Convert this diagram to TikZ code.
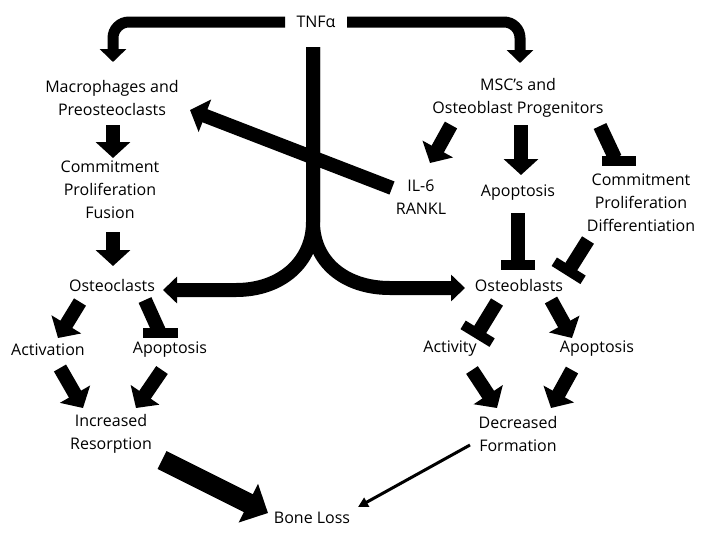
\documentclass[tikz,border=0pt]{standalone}
\usepackage{fontspec}
\setmainfont{Open Sans}
\usetikzlibrary{arrows.meta, calc}

\tikzset{
  lbl/.style={font=\fontsize{16}{23}\selectfont, align=center, inner sep=0pt},
  arr/.style={line width=14pt, -{Triangle[width=34pt,length=16pt]}},
  tnfarr/.style={line width=11pt, rounded corners=16pt, -{Triangle[width=26pt,length=13pt]}},
  trunk/.style={line width=14pt, -{Triangle[width=26pt,length=14pt]}},
  inh/.style={line width=14pt, -{Bar[width=34pt,line width=10pt]}},
  inhline/.style={line width=14pt},
  inhbar/.style={line width=10pt},
  bigarr/.style={line width=20pt, -{Triangle[width=42pt,length=22pt]}},
  thinarr/.style={line width=3pt, -{Triangle[width=10pt,length=10pt]}}
}

\begin{document}
\begin{tikzpicture}[x=1pt,y=-1pt]
    \useasboundingbox (0,0) rectangle (708,533);

    % Top
    \node[lbl] (tnf) at (316,22) {TNFα};

    % Left side - osteoclast line
    \node[lbl] (mac) at (112,98) {Macrophages and\\Preosteoclasts};
    \node[lbl] (cpf) at (110,190) {Commitment\\Proliferation\\Fusion};
    \node[lbl] (ocl) at (112,285) {Osteoclasts};
    \node[lbl] (act) at (48,350) {Activation};
    \node[lbl] (apl) at (170,350) {Apoptosis};
    \node[lbl] (inr) at (111,434) {Increased\\Resorption};

    % Right side - osteoblast line
    \node[lbl] (msc) at (518,98) {MSC’s and\\Osteoblast Progenitors};
    \node[lbl] (il6) at (421,197) {IL-6\\RANKL};
    \node[lbl] (apr) at (518,193) {Apoptosis};
    \node[lbl] (cpd) at (641,203) {Commitment\\Proliferation\\Differentiation};
    \node[lbl] (obl) at (519,285) {Osteoblasts};
    \node[lbl] (acy) at (450,349) {Activity};
    \node[lbl] (apb) at (597,349) {Apoptosis};
    \node[lbl] (dcf) at (518,434) {Decreased\\Formation};

    % Bottom
    \node[lbl] (bone) at (312,518) {Bone Loss};

    % TNF branches
    \draw[tnfarr] ([shift={(-31,0)}]tnf.center) -| ([shift={(1,-36)}]mac.center);
    \draw[tnfarr] ([shift={(31,0)}]tnf.center) -| ([shift={(2,-35)}]msc.center);

    % Trunk splitting to osteoclasts and osteoblasts
    \draw[trunk] ([shift={(-3,25)}]tnf.center) -- (313,222)
        .. controls (313,262) and (281,290) .. (236,290) -- ([shift={(51,5)}]ocl.center);
    \draw[trunk] ([shift={(-3,25)}]tnf.center) -- (313,222)
        .. controls (313,262) and (345,288) .. (390,288) -- ([shift={(-54,3)}]obl.center);

    % IL-6 / RANKL back to macrophages
    \draw[arr] ([shift={(-29,-9)}]il6.center) -- ([shift={(78,12)}]mac.center);

    % Left column
    \draw[arr] ([shift={(1,27)}]mac.center) -- ([shift={(3,-32)}]cpf.center);
    \draw[arr] ([shift={(3,42)}]cpf.center) -- ([shift={(1,-19)}]ocl.center);
    \draw[arr] ([shift={(-32,17)}]ocl.center) -- ([shift={(10,-12)}]act.center);
    \draw[inhline] ([shift={(33,15)}]ocl.center) -- ([shift={(-11,-19)}]apl.center);
    \draw[inhbar] ([shift={(-27,-17)}]apl.center) -- ([shift={(8,-17)}]apl.center);
    \draw[arr] ([shift={(12,18)}]act.center) -- ([shift={(-28,-26)}]inr.center);
    \draw[arr] ([shift={(-8,20)}]apl.center) -- ([shift={(25,-26)}]inr.center);

    % Right column
    \draw[arr] ([shift={(-67,27)}]msc.center) -- ([shift={(9,-34)}]il6.center);
    \draw[arr] ([shift={(3,27)}]msc.center) -- ([shift={(3,-18)}]apr.center);
    \draw[inhline] ([shift={(82,28)}]msc.center) -- ([shift={(-26,-45)}]cpd.center);
    \draw[inhbar] ([shift={(-39,-42)}]cpd.center) -- ([shift={(-5,-42)}]cpd.center);
    \draw[inh] ([shift={(0,20)}]apr.center) -- ([shift={(-1,-15)}]obl.center);
    \draw[inh] ([shift={(-53,37)}]cpd.center) -- ([shift={(47,-10)}]obl.center);
    \draw[inh] ([shift={(-22,17)}]obl.center) -- ([shift={(25,-11)}]acy.center);
    \draw[arr] ([shift={(32,15)}]obl.center) -- ([shift={(-25,-11)}]apb.center);
    \draw[arr] ([shift={(22,21)}]acy.center) -- ([shift={(-21,-26)}]dcf.center);
    \draw[arr] ([shift={(-25,21)}]apb.center) -- ([shift={(33,-26)}]dcf.center);

    % To bone loss
    \draw[bigarr] ([shift={(51,26)}]inr.center) -- ([shift={(-44,-5)}]bone.center);
    \draw[thinarr] ([shift={(-48,11)}]dcf.center) -- ([shift={(46,-11)}]bone.center);
\end{tikzpicture}
\end{document}
